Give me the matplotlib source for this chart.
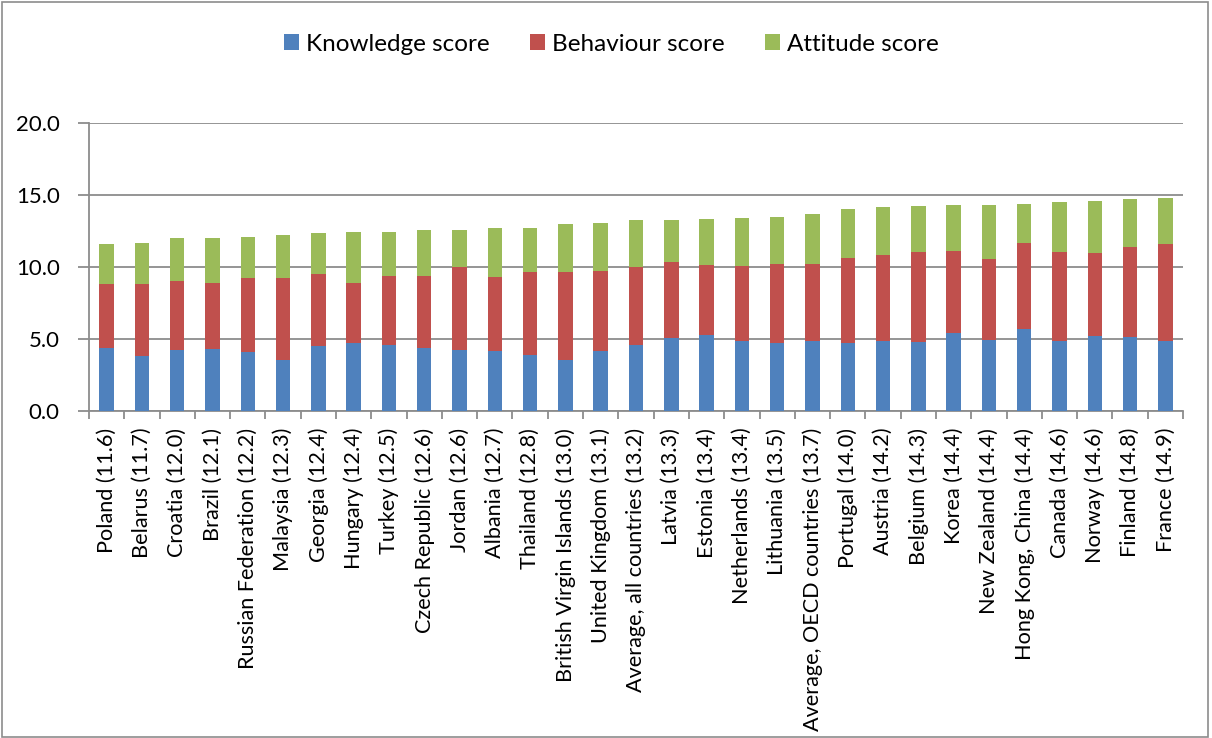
import matplotlib
matplotlib.use("Agg")
import matplotlib.pyplot as plt
from matplotlib.patches import Rectangle
import numpy as np

plt.rcParams['font.family'] = ['Lato', 'DejaVu Sans']

countries = ["Poland (11.6)", "Belarus (11.7)", "Croatia (12.0)", "Brazil (12.1)",
             "Russian Federation (12.2)", "Malaysia (12.3)", "Georgia (12.4)", "Hungary (12.4)",
             "Turkey (12.5)", "Czech Republic (12.6)", "Jordan (12.6)", "Albania (12.7)",
             "Thailand (12.8)", "British Virgin Islands (13.0)", "United Kingdom (13.1)",
             "Average, all countries (13.2)", "Latvia (13.3)", "Estonia (13.4)",
             "Netherlands (13.4)", "Lithuania (13.5)", "Average, OECD countries (13.7)",
             "Portugal (14.0)", "Austria (14.2)", "Belgium (14.3)", "Korea (14.4)",
             "New Zealand (14.4)", "Hong Kong, China (14.4)", "Canada (14.6)",
             "Norway (14.6)", "Finland (14.8)", "France (14.9)"]

knowledge = [4.40, 3.80, 4.25, 4.32, 4.11, 3.55, 4.55, 4.71, 4.57, 4.41, 4.27, 4.15,
             3.87, 3.55, 4.15, 4.57, 5.08, 5.27, 4.85, 4.71, 4.85, 4.71, 4.85, 4.83,
             5.41, 4.97, 5.73, 4.90, 5.22, 5.17, 4.87]
behaviour = [4.42, 5.06, 4.82, 4.59, 5.12, 5.73, 4.99, 4.22, 4.85, 5.01, 5.73, 5.15,
             5.83, 6.15, 5.62, 5.45, 5.27, 4.89, 5.27, 5.48, 5.38, 5.94, 6.01, 6.26,
             5.75, 5.63, 5.96, 6.19, 5.75, 6.27, 6.78]
attitude = [2.78, 2.84, 2.95, 3.13, 2.90, 2.97, 2.85, 3.51, 3.06, 3.16, 2.62, 3.41,
            3.06, 3.34, 3.29, 3.27, 2.97, 3.20, 3.29, 3.27, 3.44, 3.39, 3.34, 3.18,
            3.20, 3.76, 2.72, 3.46, 3.62, 3.34, 3.20]

series_names = ["Knowledge score", "Behaviour score", "Attitude score"]
colors = ["#4F81BD", "#C0504D", "#9BBB59"]
yticks = [0, 5, 10, 15, 20]

fig = plt.figure(figsize=(12.12, 7.38), dpi=100)
ax = fig.add_axes([0.0734, 0.4431, 0.9027, 0.3896])

x = np.arange(len(countries))
k = np.array(knowledge)
b = np.array(behaviour)
a = np.array(attitude)
w = 0.41
h1 = ax.bar(x, k, w, color=colors[0], label=series_names[0], zorder=3)
h2 = ax.bar(x, b, w, bottom=k, color=colors[1], label=series_names[1], zorder=3)
h3 = ax.bar(x, a, w, bottom=k + b, color=colors[2], label=series_names[2], zorder=3)

gridc = "#8C8C8C"
ax.set_xlim(-0.5, len(countries) - 0.5)
ax.set_ylim(0, 20)
ax.set_yticks(yticks)
ax.set_yticklabels([f"{v:.1f}" for v in yticks], fontsize=16)
ax.yaxis.grid(True, color=gridc, linewidth=1.3, zorder=0)
ax.set_axisbelow(True)

ax.set_xticks(x)
ax.set_xticklabels(countries, rotation=90, fontsize=15.6)
ax.set_xticks(np.arange(-0.5, len(countries), 1), minor=True)
ax.tick_params(axis='x', which='major', length=0, pad=12)
ax.tick_params(axis='x', which='minor', length=6, color=gridc, width=1.3)
ax.tick_params(axis='y', length=8, color=gridc, width=1.3, pad=13)

for s in ['top', 'right']:
    ax.spines[s].set_visible(False)
for s in ['left', 'bottom']:
    ax.spines[s].set_color(gridc)
    ax.spines[s].set_linewidth(1.3)

fig.legend(handles=[h1, h2, h3], labels=series_names, loc='center',
           bbox_to_anchor=(0.5046, 0.94), ncol=3, frameon=False, fontsize=17.5,
           handlelength=0.62, handleheight=0.62, handletextpad=0.3, columnspacing=1.65)

fig.patches.append(Rectangle((0.002, 0.002), 0.995, 0.995, transform=fig.transFigure,
                             fill=False, edgecolor="#8C8C8C", linewidth=1.2))

fig.savefig("out.png", dpi=100)
